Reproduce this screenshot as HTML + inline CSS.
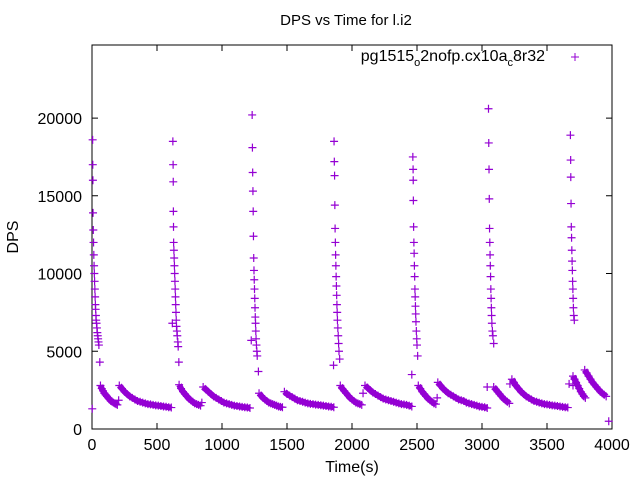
<!DOCTYPE html>
<html><head><meta charset="utf-8"><style>
body{margin:0;background:#fff}
svg text{font-family:"Liberation Sans",sans-serif;font-size:16px;fill:#000}
</style></head><body>
<svg id="chart" width="640" height="480" viewBox="0 0 640 480" xmlns="http://www.w3.org/2000/svg">
<rect width="640" height="480" fill="#fff"/>
<text x="346" y="25" text-anchor="middle" style="font-size:15px">DPS vs Time for l.i2</text>
<text x="18" y="237" text-anchor="middle" transform="rotate(-90 18 237)">DPS</text>
<text x="352" y="472" text-anchor="middle">Time(s)</text>
<g id="axes"></g>
<g id="points"></g>
<g>
<text x="545" y="61" text-anchor="end">pg1515<tspan dy="5" font-size="11">o</tspan><tspan dy="-5">2nofp.cx10a</tspan><tspan dy="5" font-size="11">c</tspan><tspan dy="-5">8r32</tspan></text>
<path d="M571 57h8M575 53v8" stroke="#9400d3" stroke-width="1"/>
</g>
</svg>
<script>
const xTicks=[0,500,1000,1500,2000,2500,3000,3500,4000];
const yTicks=[0,5000,10000,15000,20000];
const spike1=[[2,1300],[5,18600],[6,17000],[7,16000],[8,13900],[10,12800],[12,12000],[14,11200],[16,10500],[18,10000],[20,9500],[22,9000],[24,8500],[26,8000],[28,7700],[30,7300],[32,7000],[35,6800],[38,6500],[41,6200],[44,6000],[47,5800],[50,5600],[53,5400],[60,4300]];
const spike2=[[618,6800],[622,18500],[624,17000],[625,15900],[626,14000],[627,13000],[628,12000],[630,11500],[632,11000],[634,10500],[636,10000],[638,9500],[640,9000],[642,8500],[644,8000],[646,7500],[648,7000],[650,6600],[653,6300],[656,6000],[660,5600],[663,5300],[668,4300]];
const spike3=[[1225,5700],[1232,20200],[1234,18100],[1236,16500],[1238,15300],[1240,14000],[1242,12400],[1244,11000],[1246,10200],[1248,9600],[1250,9000],[1252,8400],[1254,7800],[1256,7200],[1258,6800],[1260,6300],[1262,5800],[1265,5400],[1268,5000],[1271,4700],[1280,3700]];
const spike4=[[1858,4100],[1862,18500],[1864,17200],[1866,16300],[1868,14400],[1870,12900],[1872,12000],[1874,11200],[1876,10500],[1878,9800],[1880,9200],[1882,8600],[1884,8000],[1886,7500],[1888,7000],[1891,6500],[1894,6000],[1897,5500],[1900,5000],[1905,4500]];
const spike5=[[2460,3500],[2468,17500],[2470,16700],[2471,16000],[2472,14700],[2474,13000],[2476,12000],[2478,11300],[2480,10500],[2482,9800],[2484,9000],[2486,8500],[2488,7900],[2490,7400],[2492,6900],[2495,6300],[2498,5800],[2500,5400],[2505,4700]];
const spike6=[[3040,2700],[3050,20600],[3052,18400],[3054,16700],[3056,14800],[3058,12900],[3060,12000],[3062,11200],[3064,10500],[3066,9800],[3068,9000],[3070,8400],[3072,7800],[3074,7300],[3076,6800],[3080,6300],[3084,6000],[3090,5500]];
const spike7=[[3670,2900],[3680,18900],[3682,17300],[3683,16200],[3685,14500],[3687,13000],[3689,12300],[3691,11500],[3693,10800],[3695,10200],[3697,9500],[3699,9000],[3701,8400],[3703,7800],[3706,7300],[3710,7000]];
const decayA=[[65,2800],[75,2600],[85,2450],[95,2300],[105,2200],[115,2100],[125,2000],[135,1900],[145,1800],[155,1750],[165,1700],[175,1650],[185,1600],[195,1550]];
const decayB=[[210,2800],[230,2600],[250,2400],[270,2250],[290,2100],[310,2000],[330,1900],[350,1800],[370,1750],[390,1700],[410,1650],[430,1600],[450,1580],[470,1550],[490,1520],[510,1500],[530,1480],[550,1450],[570,1430],[590,1400],[610,1380]];
const decayC=[[670,2850],[685,2600],[700,2400],[715,2250],[730,2100],[745,1950],[760,1850],[775,1750],[790,1650],[805,1600],[820,1550],[835,1500]];
const decayD=[[855,2700],[875,2550],[895,2400],[915,2250],[935,2100],[955,2000],[975,1900],[995,1800],[1015,1700],[1035,1650],[1055,1600],[1075,1550],[1095,1500],[1115,1480],[1135,1450],[1155,1420],[1175,1400],[1195,1380],[1215,1350]];
const decayE=[[1285,2300],[1300,2150],[1315,2000],[1330,1900],[1345,1800],[1360,1700],[1375,1650],[1390,1600],[1405,1550],[1420,1500],[1435,1450],[1450,1420],[1465,1400]];
const decayF=[[1480,2400],[1500,2250],[1520,2150],[1540,2050],[1560,1950],[1580,1850],[1600,1800],[1620,1750],[1640,1700],[1660,1650],[1680,1620],[1700,1600],[1720,1570],[1740,1550],[1760,1530],[1780,1500],[1800,1480],[1820,1450],[1840,1430],[1860,1400]];
const decayG=[[1910,2800],[1925,2600],[1940,2450],[1955,2300],[1970,2150],[1985,2000],[2000,1900],[2015,1800],[2030,1700],[2045,1650],[2060,1600],[2075,1550]];
const decayH=[[2100,2800],[2120,2650],[2140,2500],[2160,2350],[2180,2250],[2200,2150],[2220,2050],[2240,1950],[2260,1900],[2280,1850],[2300,1800],[2320,1750],[2340,1700],[2360,1650],[2380,1600],[2400,1580],[2420,1550],[2440,1500],[2460,1450]];
const decayI=[[2510,2800],[2525,2600],[2540,2400],[2555,2250],[2570,2100],[2585,1950],[2600,1850],[2615,1750],[2630,1650],[2645,1600]];
const decayJ=[[2660,3000],[2680,2800],[2700,2600],[2720,2450],[2740,2300],[2760,2200],[2780,2100],[2800,2000],[2820,1900],[2840,1850],[2860,1800],[2880,1700],[2900,1650],[2920,1600],[2940,1550],[2960,1500],[2980,1450],[3000,1420],[3020,1400],[3040,1350]];
const decayK=[[3090,2700],[3105,2550],[3120,2400],[3135,2250],[3150,2100],[3165,1950],[3180,1850],[3195,1750],[3210,1650]];
const decayL=[[3230,3200],[3245,3000],[3260,2800],[3280,2600],[3300,2400],[3320,2250],[3340,2100],[3360,2000],[3380,1900],[3400,1800],[3420,1750],[3440,1700],[3460,1650],[3480,1600],[3500,1580],[3520,1550],[3540,1520],[3560,1500],[3580,1480],[3600,1450],[3620,1420],[3640,1400],[3660,1380]];
const decayM=[[3700,3400],[3712,3200],[3724,3000],[3736,2800],[3748,2600],[3760,2400],[3772,2250],[3784,2100],[3795,2000]];
const decayN=[[3790,3800],[3805,3600],[3820,3400],[3835,3200],[3850,3000],[3865,2850],[3880,2700],[3895,2550],[3910,2400],[3925,2300],[3940,2200],[3955,2100]];
const outliers=[[205,1850],[845,1700],[2085,2300],[2655,2000],[3215,2900],[3700,2800],[3975,500]];
const spikes=[spike1,spike2,spike3,spike4,spike5,spike6,spike7,outliers];
const decays=[decayA,decayB,decayC,decayD,decayE,decayF,decayG,decayH,decayI,decayJ,decayK,decayL,decayM,decayN];

const L=92,R=612,T=45,B=429;
const xS=t=>L+t/4000*(R-L);
const yS=v=>B-v/24700*(B-T);
const NS='http://www.w3.org/2000/svg';
const axes=document.getElementById('axes');
const frame=document.createElementNS(NS,'rect');
frame.setAttribute('x',L);frame.setAttribute('y',T);frame.setAttribute('width',R-L);frame.setAttribute('height',B-T);
frame.setAttribute('fill','none');frame.setAttribute('stroke','#000');


axes.appendChild(frame);
xTicks.forEach(t=>{
  const x=xS(t);
  const p=document.createElementNS(NS,'path');
  p.setAttribute('d',`M${x} ${B}v-6M${x} ${T}v6`);p.setAttribute('stroke','#000');
  
  
  axes.appendChild(p);
  const tx=document.createElementNS(NS,'text');
  tx.setAttribute('x',x);tx.setAttribute('y',B+21);tx.setAttribute('text-anchor','middle');tx.textContent=t;
  
  
  axes.appendChild(tx);
});
yTicks.forEach(v=>{
  const y=yS(v);
  const p=document.createElementNS(NS,'path');
  p.setAttribute('d',`M${L} ${y}h6M${R} ${y}h-6`);p.setAttribute('stroke','#000');
  
  
  axes.appendChild(p);
  const tx=document.createElementNS(NS,'text');
  tx.setAttribute('x',L-10);tx.setAttribute('y',y+6);tx.setAttribute('text-anchor','end');tx.textContent=v;
  
  
  axes.appendChild(tx);
});
const pts=document.getElementById('points');
decays.forEach(s=>{
  const pl=document.createElementNS(NS,'polyline');
  pl.setAttribute('points',s.map(([t,v])=>`${xS(t)},${yS(v)}`).join(' '));
  pl.setAttribute('fill','none');pl.setAttribute('stroke','#9400d3');pl.setAttribute('stroke-width','6');pl.setAttribute('stroke-linejoin','round');
  
  
  pts.appendChild(pl);
});
let d='';
spikes.concat(decays).forEach(s=>s.forEach(([t,v])=>{const x=xS(t),y=yS(v);d+=`M${x-4} ${y}h8M${x} ${y-4}v8`;}));
const path=document.createElementNS(NS,'path');
path.setAttribute('d',d);path.setAttribute('stroke','#9400d3');path.setAttribute('stroke-width','1.2');path.setAttribute('fill','none');


pts.appendChild(path);
</script>
</body></html>
